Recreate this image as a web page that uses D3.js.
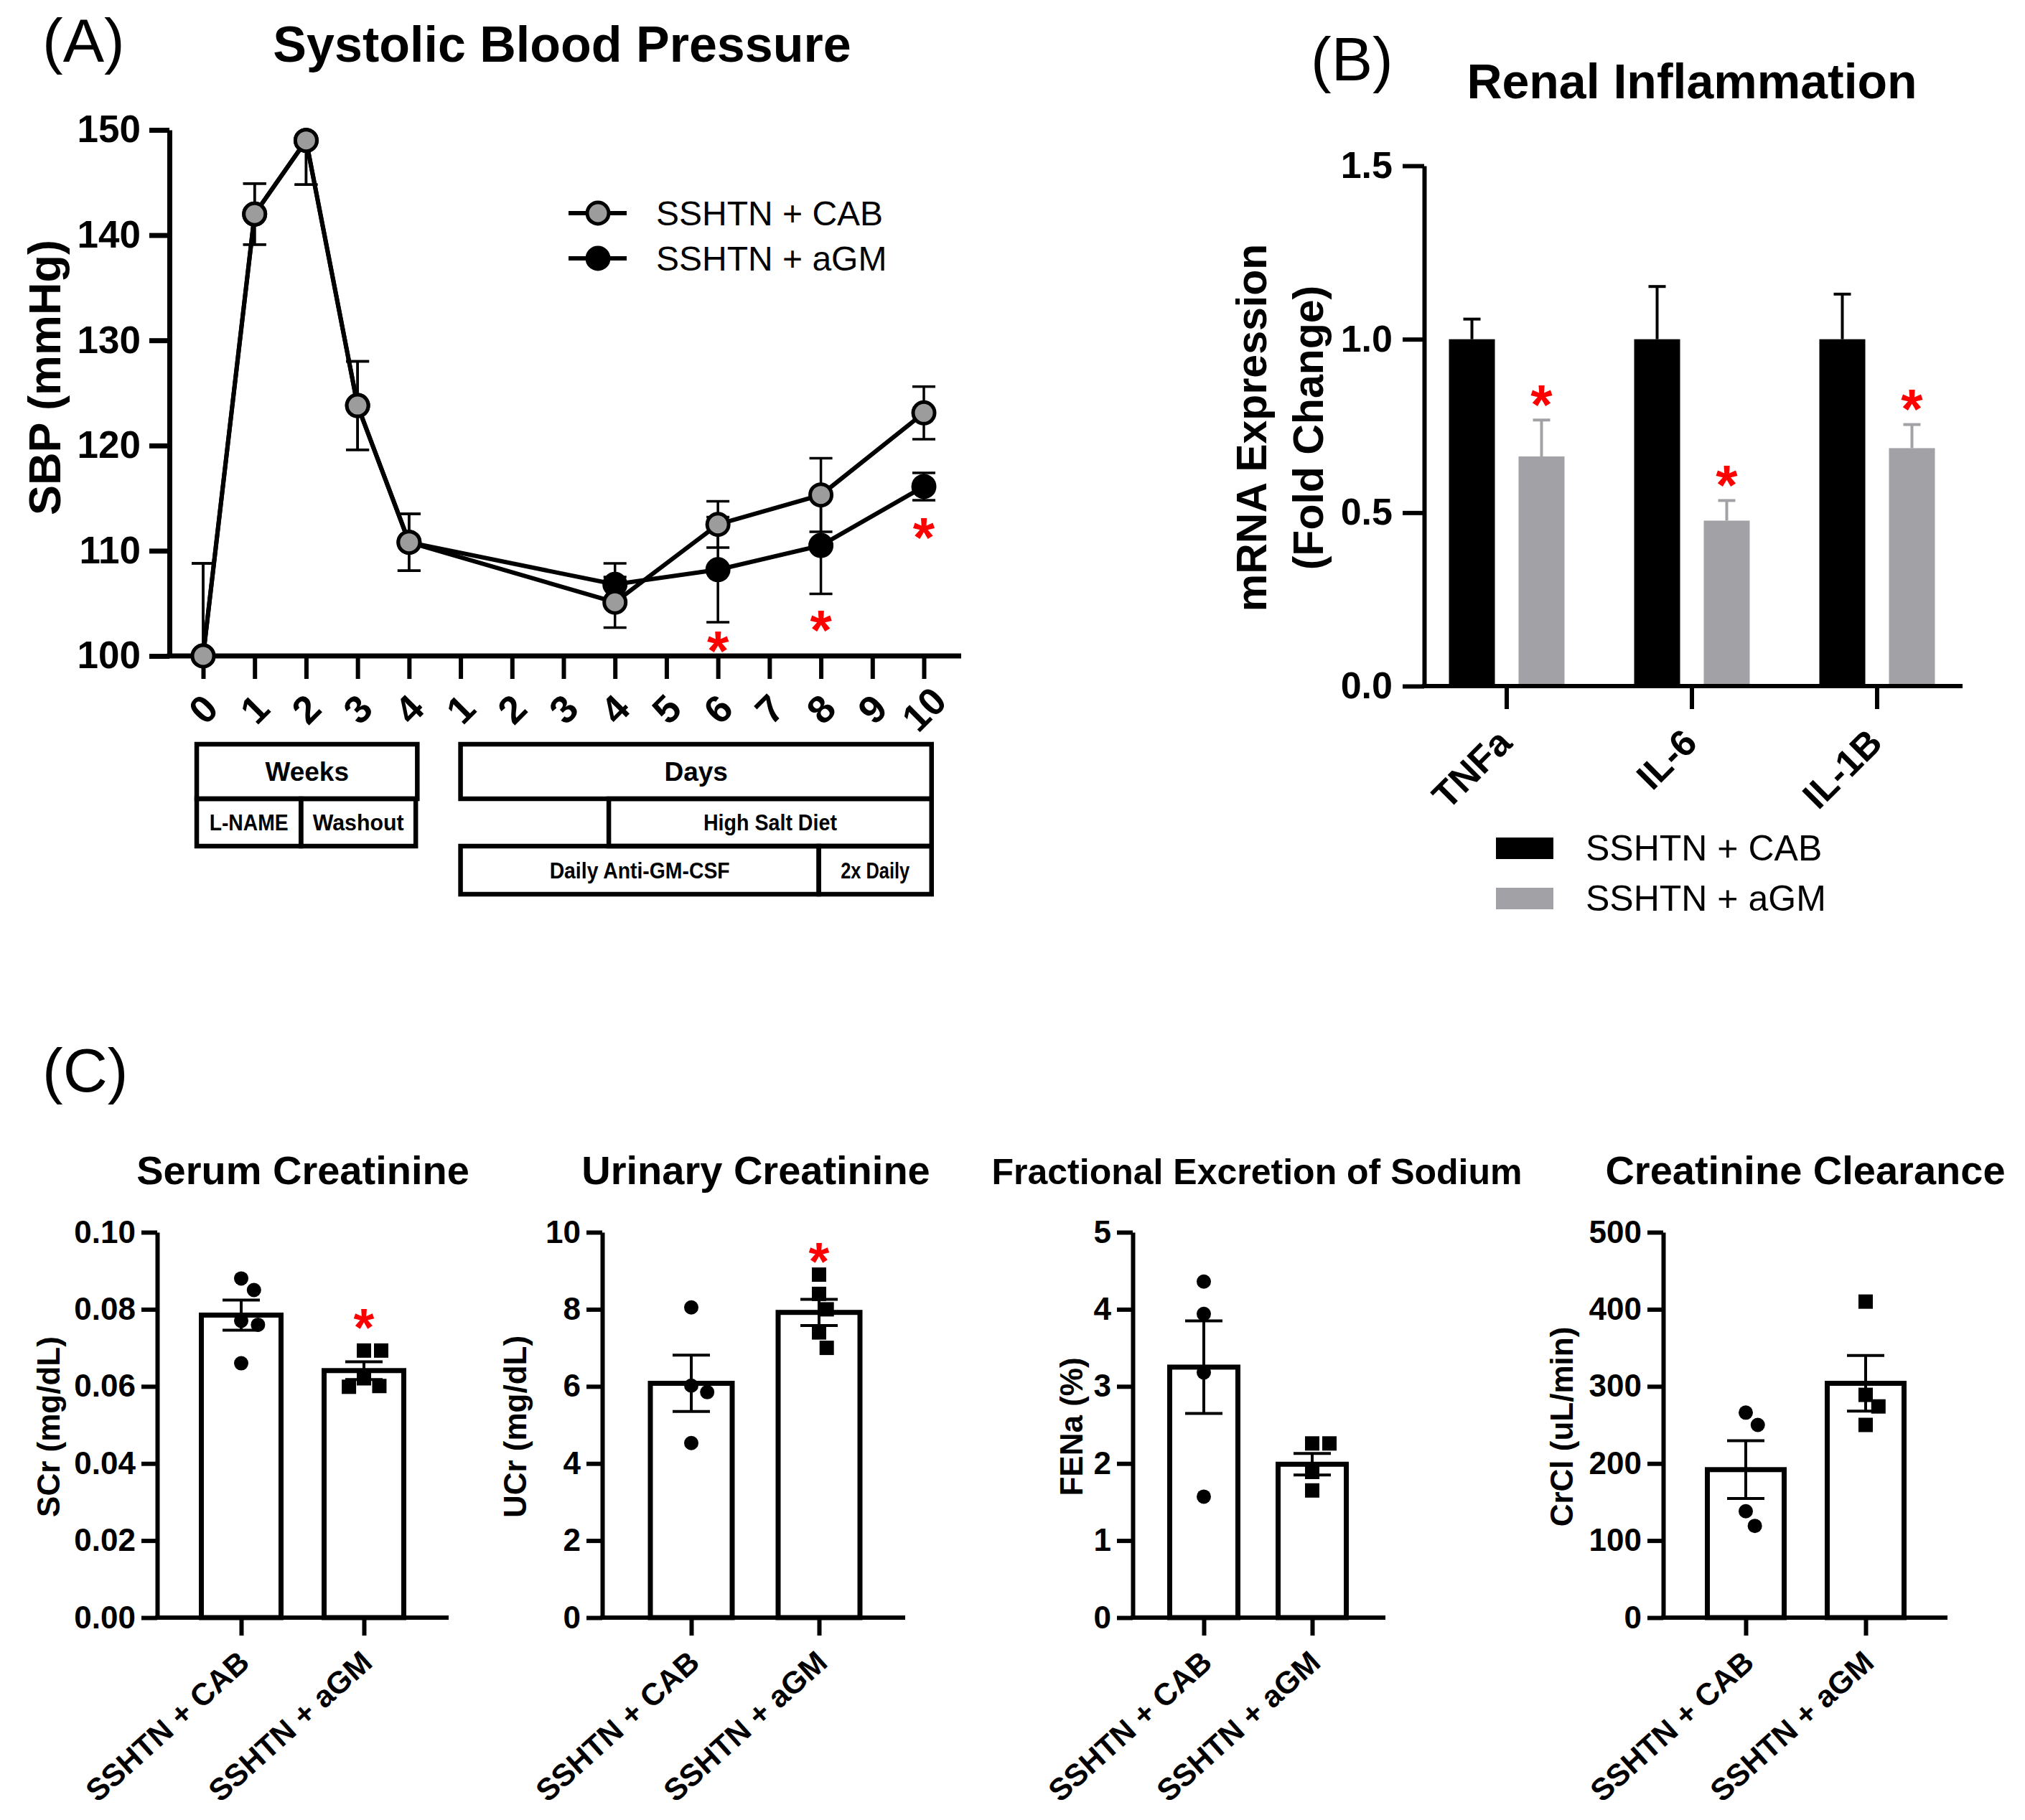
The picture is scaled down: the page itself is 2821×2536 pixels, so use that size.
<!DOCTYPE html>
<html><head><meta charset="utf-8">
<script src="https://cdn.jsdelivr.net/npm/d3@7"></script>
<style>body{margin:0;background:#fff} text{font-family:"Liberation Sans",Arial,Helvetica,sans-serif}</style>
</head><body><script>
// ---------------- DATA ----------------
// Panel A: systolic blood pressure
const sbpTickLabels = ["0","1","2","3","4","1","2","3","4","5","6","7","8","9","10"];
const sbpYTicks = [100,110,120,130,140,150];
const sbpPos = [0,1,2,3,4,8,10,12,14];
const sbpCAB = [100,142,149,123.8,110.8,105.1,112.5,115.3,123.1];
const sbpCABErr = [8.8,2.9,4.2,4.2,2.7,2.4,2.2,3.5,2.5];
const sbpAGM = [100,142,149,123.8,110.8,106.8,108.2,110.5,116.1];
const sbpAGMErr = [8.8,2.9,4.2,4.2,2.7,2.0,5.0,4.6,1.3];
const sbpStarPos = [10,12,14];
const sbpStarVal = [101.6,103.6,112.4];
const seriesNames = ["SSHTN + CAB","SSHTN + aGM"];
const timelineLabels = ["Weeks","L-NAME","Washout","Days","High Salt Diet","Daily Anti-GM-CSF","2x Daily"];

// Panel B: renal inflammation
const inflCats = ["TNFa","IL-6","IL-1B"];
const inflYTicks = [0,0.5,1.0,1.5];
const inflCAB = [1.0,1.0,1.0];
const inflCABErr = [0.058,0.152,0.13];
const inflAGM = [0.662,0.477,0.686];
const inflAGMErr = [0.105,0.058,0.068];
const inflStar = [true,true,true];

// Panel C
const groups = ["SSHTN + CAB","SSHTN + aGM"];
const scrMean = [0.0785,0.0641], scrSem = [0.0039,0.0023];
const scrCAB = [0.088,0.085,0.077,0.076,0.066];
const scrAGM = [0.0693,0.0693,0.0621,0.0601,0.0599];
const scrTicks = [0,0.02,0.04,0.06,0.08,0.10];
const ucrMean = [6.08,7.92], ucrSem = [0.73,0.34];
const ucrCAB = [8.05,6.02,5.85,4.53];
const ucrAGM = [8.9,8.4,8.0,7.4,7.0];
const ucrTicks = [0,2,4,6,8,10];
const fenaMean = [3.25,1.99], fenaSem = [0.6,0.14];
const fenaCAB = [4.36,3.94,3.18,1.57];
const fenaAGM = [2.26,2.26,1.89,1.65];
const fenaTicks = [0,1,2,3,4,5];
const crclMean = [192,304], crclSem = [37.5,36];
const crclCAB = [266,250,138,119];
const crclAGM = [410,289,274,250];
const crclTicks = [0,100,200,300,400,500];

// ---------------- DRAW ----------------
const W=2821,H=2536;
const RED="#ff0000", GRAY="#a2a2a6", MGRAY="#9c9c9c";
const svg=d3.select("body").append("svg").attr("width",W).attr("height",H);
svg.append("rect").attr("width",W).attr("height",H).attr("fill","#fff");

function txt(g,x,y,s,o={}){
  const t=g.append("text").attr("x",x).attr("y",y).text(s)
    .attr("font-size",o.size||40).attr("font-weight",o.weight||"normal")
    .attr("text-anchor",o.anchor||"start").attr("fill",o.fill||"#000");
  if(o.rotate!=null) t.attr("transform",`rotate(${o.rotate},${x},${y})`);
  if(o.db) t.attr("dominant-baseline",o.db);
  if(o.family) t.style("font-family",o.family);
  if(o.len) t.attr("textLength",o.len).attr("lengthAdjust","spacingAndGlyphs");
  return t;
}
function star(g,x,cy,fs){ return txt(g,x,cy+0.56*fs,"*",{size:fs,weight:"bold",anchor:"middle",fill:RED}); }
function styleAxis(sel,sw,fs){
  sel.selectAll("path.domain").attr("stroke","#000").attr("stroke-width",sw);
  sel.selectAll(".tick line").attr("stroke","#000").attr("stroke-width",sw);
  sel.selectAll(".tick text").attr("font-size",fs).attr("font-weight","bold").attr("fill","#000")
    .style("font-family",'"Liberation Sans",Arial,sans-serif');
}

// ---------- Panel A ----------
const gA=svg.append("g");
const xA=d3.scaleLinear().domain([0,14]).range([283,1287]);
const yA=d3.scaleLinear().domain([100,150]).range([914,181]);
const axA=236;
txt(gA,59,86,"(A)",{size:86});
txt(gA,783,86,"Systolic Blood Pressure",{size:70,weight:"bold",anchor:"middle"});
const ayA=gA.append("g").attr("transform",`translate(${axA},0)`)
  .call(d3.axisLeft(yA).tickValues(sbpYTicks).tickSize(28).tickSizeOuter(0).tickPadding(12));
styleAxis(ayA,7,53);
gA.append("line").attr("x1",axA-3.5).attr("x2",1339).attr("y1",yA(100)).attr("y2",yA(100)).attr("stroke","#000").attr("stroke-width",7);
const axXA=gA.append("g").attr("transform",`translate(0,${yA(100)})`)
  .call(d3.axisBottom(xA).tickValues(d3.range(15)).tickSize(32).tickFormat(""));
axXA.select("path.domain").remove();
styleAxis(axXA,6,40);
gA.selectAll("text.xlab").data(sbpTickLabels).join("text").attr("class","xlab")
  .attr("x",(d,i)=>xA(i)).attr("y",988).text(d=>d)
  .attr("text-anchor","middle").attr("dominant-baseline","central")
  .attr("font-size",54).attr("font-weight","bold")
  .attr("transform",(d,i)=>`rotate(-45,${xA(i)},988)`);
txt(gA,62,526,"SBP (mmHg)",{size:63,weight:"bold",anchor:"middle",rotate:-90,db:"central"});

svg.append("clipPath").attr("id","clipA").append("rect").attr("x",0).attr("y",yA(150)-3).attr("width",W).attr("height",yA(100)-yA(150)+3);
const lineA=d3.line().x(d=>xA(d.p)).y(d=>yA(d.v));
function drawSeries(vals,errs,fill){
  const data=vals.map((v,i)=>({p:sbpPos[i],v,e:errs[i]}));
  const eg=gA.append("g").attr("clip-path","url(#clipA)");
  data.forEach(d=>{
    const x=xA(d.p);
    eg.append("line").attr("x1",x).attr("x2",x).attr("y1",yA(d.v-d.e)).attr("y2",yA(d.v+d.e)).attr("stroke","#000").attr("stroke-width",3.5);
    [d.v-d.e,d.v+d.e].forEach(v=>eg.append("line").attr("x1",x-16).attr("x2",x+16).attr("y1",yA(v)).attr("y2",yA(v)).attr("stroke","#000").attr("stroke-width",3.5));
  });
  gA.append("path").datum(data).attr("d",lineA).attr("fill","none").attr("stroke","#000").attr("stroke-width",6);
  gA.selectAll(null).data(data).join("circle").attr("cx",d=>xA(d.p)).attr("cy",d=>yA(d.v)).attr("r",15)
    .attr("fill",fill).attr("stroke","#000").attr("stroke-width",5);
}
drawSeries(sbpAGM,sbpAGMErr,"#000");
drawSeries(sbpCAB,sbpCABErr,MGRAY);
sbpStarPos.forEach((p,i)=>star(gA,xA(p),yA(sbpStarVal[i]),78));
// legend A
[[MGRAY,297],["#000",360]].forEach(([f,y],i)=>{
  gA.append("line").attr("x1",792).attr("x2",873).attr("y1",y).attr("y2",y).attr("stroke","#000").attr("stroke-width",6);
  gA.append("circle").attr("cx",833).attr("cy",y).attr("r",15).attr("fill",f).attr("stroke","#000").attr("stroke-width",5);
  txt(gA,914,y,seriesNames[i],{size:48,db:"central"});
});
// timeline boxes
const tl=[
  {l:0,a:-0.125,b:4.16,r:0,bold:true},
  {l:1,a:-0.125,b:1.9,r:1},
  {l:2,a:1.9,b:4.13,r:1},
  {l:3,a:5.0,b:14.15,r:0,bold:true},
  {l:4,a:7.88,b:14.15,r:1},
  {l:5,a:5.0,b:11.96,r:2},
  {l:6,a:11.96,b:14.15,r:2}
];
const rowY=[[1037,1113],[1113,1179],[1179,1246]];
const lens=[null,110,127,null,186,251,96];
tl.forEach(t=>{
  const x0=xA(t.a),x1=xA(t.b),[y0,y1]=rowY[t.r];
  gA.append("rect").attr("x",x0).attr("y",y0).attr("width",x1-x0).attr("height",y1-y0)
    .attr("fill","none").attr("stroke","#000").attr("stroke-width",6.5);
  const cx=(x0+x1)/2, cy=(y0+y1)/2;
  if(t.bold) txt(gA,cx,cy+13,timelineLabels[t.l],{size:37,weight:"bold",anchor:"middle"});
  else txt(gA,cx,cy+11,timelineLabels[t.l],{size:31,weight:"bold",anchor:"middle",len:lens[t.l],family:'"Liberation Sans Narrow","Liberation Sans",Arial,sans-serif'});
});

// ---------- Panel B ----------
const gB=svg.append("g");
const yB=d3.scaleLinear().domain([0,1.5]).range([956,231]);
const xB=d3.scaleBand().domain(inflCats).range([1970,2744]);
const sB=d3.scaleBand().domain([0,1]).range([-80.5,80.5]).paddingInner(0.34);
const axB=1984;
txt(gB,1826,112,"(B)",{size:86});
txt(gB,2357,137,"Renal Inflammation",{size:68,weight:"bold",anchor:"middle"});
const ayB=gB.append("g").attr("transform",`translate(${axB},0)`)
  .call(d3.axisLeft(yB).tickValues(inflYTicks).tickFormat(d3.format(".1f")).tickSize(30).tickSizeOuter(0).tickPadding(14));
styleAxis(ayB,6,52);
gB.append("line").attr("x1",axB-3).attr("x2",2734).attr("y1",yB(0)).attr("y2",yB(0)).attr("stroke","#000").attr("stroke-width",6);
const axXB=gB.append("g").attr("transform",`translate(0,${yB(0)})`)
  .call(d3.axisBottom(xB).tickSize(32).tickFormat(""));
axXB.select("path.domain").remove();
styleAxis(axXB,6,40);
[[inflCAB,inflCABErr,"#000"],[inflAGM,inflAGMErr,GRAY]].forEach(([vals,errs,col],s)=>{
  inflCats.forEach((c,i)=>{
    const cx=xB(c)+xB.bandwidth()/2+sB(s)+sB.bandwidth()/2;
    const top=yB(vals[i]+errs[i]);
    gB.append("line").attr("x1",cx).attr("x2",cx).attr("y1",yB(vals[i])).attr("y2",top).attr("stroke",col).attr("stroke-width",4);
    gB.append("line").attr("x1",cx-12).attr("x2",cx+12).attr("y1",top).attr("y2",top).attr("stroke",col).attr("stroke-width",4);
    gB.append("rect").attr("x",cx-sB.bandwidth()/2).attr("y",yB(vals[i])).attr("width",sB.bandwidth())
      .attr("height",yB(0)-yB(vals[i])-3).attr("fill",col);
    if(s===1 && inflStar[i]) star(gB,cx,top-38,78);
  });
});
inflCats.forEach(c=>{
  const cx=xB(c)+xB.bandwidth()/2;
  txt(gB,cx+10,yB(0)+82,c,{size:52,weight:"bold",anchor:"end",rotate:-45});
});
txt(gB,1744,596,"mRNA Expression",{size:59,weight:"bold",anchor:"middle",rotate:-90,db:"central"});
txt(gB,1823,596,"(Fold Change)",{size:59,weight:"bold",anchor:"middle",rotate:-90,db:"central"});
[["#000",1182],[GRAY,1252]].forEach(([col,y],i)=>{
  gB.append("rect").attr("x",2084).attr("y",y-15).attr("width",80).attr("height",30).attr("fill",col);
  txt(gB,2209,y,seriesNames[i],{size:50,db:"central"});
});

// ---------- Panel C ----------
const gC=svg.append("g");
txt(gC,59,1521,"(C)",{size:86});
const cTop=1717,cBot=2254;
const subs=[
  {title:"Serum Creatinine",tsize:56,tx:422,ylab:"SCr (mg/dL)",lx:67,ax:219,xe:625,c:[336,507],bw:111,
   ticks:scrTicks,fmt:".2f",mean:scrMean,sem:scrSem,pts:[scrCAB,scrAGM],star:0.0783},
  {title:"Urinary Creatinine",tsize:56,tx:1053,ylab:"UCr (mg/dL)",lx:717,ax:839,xe:1261,c:[963,1141],bw:114,
   ticks:ucrTicks,fmt:"d",mean:ucrMean,sem:ucrSem,pts:[ucrCAB,ucrAGM],star:9.55},
  {title:"Fractional  Excretion of Sodium",tsize:50,tx:1751,ylab:"FENa (%)",lx:1492,ax:1578,xe:1930,c:[1677,1828],bw:95,
   ticks:fenaTicks,fmt:"d",mean:fenaMean,sem:fenaSem,pts:[fenaCAB,fenaAGM],star:null},
  {title:"Creatinine Clearance",tsize:56,tx:2515,ylab:"CrCl (uL/min)",lx:2175,ax:2317,xe:2713,c:[2432,2599],bw:107,
   ticks:crclTicks,fmt:"d",mean:crclMean,sem:crclSem,pts:[crclCAB,crclAGM],star:null}
];
function swarm(vals,y,r){
  const placed=[];
  return vals.map(v=>{
    const py=y(v); const cands=[0];
    placed.forEach(p=>{const dy=py-p.y; if(Math.abs(dy)<2*r){const dx=Math.sqrt(4*r*r-dy*dy); cands.push(p.x+dx,p.x-dx);}});
    cands.sort((a,b)=>Math.abs(a)-Math.abs(b));
    const x=cands.find(c=>placed.every(p=>(p.x-c)**2+(p.y-py)**2>=4*r*r-0.5));
    placed.push({x,y:py}); return x;
  });
}
subs.forEach(sp=>{
  const g=gC.append("g");
  const y=d3.scaleLinear().domain([sp.ticks[0],sp.ticks[sp.ticks.length-1]]).range([cBot,cTop]);
  const x=d3.scalePoint().domain(groups).range(sp.c);
  txt(g,sp.tx,1650,sp.title,{size:sp.tsize,weight:"bold",anchor:"middle"});
  txt(g,sp.lx,1988,sp.ylab,{size:44,weight:"bold",anchor:"middle",rotate:-90,db:"central"});
  const ay=g.append("g").attr("transform",`translate(${sp.ax},0)`)
    .call(d3.axisLeft(y).tickValues(sp.ticks).tickFormat(d3.format(sp.fmt)).tickSize(22).tickSizeOuter(0).tickPadding(8));
  styleAxis(ay,6,44);
  g.append("line").attr("x1",sp.ax-3).attr("x2",sp.xe).attr("y1",cBot).attr("y2",cBot).attr("stroke","#000").attr("stroke-width",6);
  const axx=g.append("g").attr("transform",`translate(0,${cBot})`).call(d3.axisBottom(x).tickSize(25).tickFormat(""));
  axx.select("path.domain").remove();
  styleAxis(axx,6,40);
  groups.forEach((grp,i)=>{
    const cx=x(grp);
    g.append("rect").attr("x",cx-sp.bw/2).attr("y",y(sp.mean[i])).attr("width",sp.bw).attr("height",cBot-y(sp.mean[i]))
      .attr("fill","#fff").attr("stroke","#000").attr("stroke-width",7);
    const lo=y(sp.mean[i]-sp.sem[i]), hi=y(sp.mean[i]+sp.sem[i]);
    g.append("line").attr("x1",cx).attr("x2",cx).attr("y1",lo).attr("y2",hi).attr("stroke","#000").attr("stroke-width",4);
    [lo,hi].forEach(yy=>g.append("line").attr("x1",cx-26).attr("x2",cx+26).attr("y1",yy).attr("y2",yy).attr("stroke","#000").attr("stroke-width",4));
    const offs=swarm(sp.pts[i],y,12);
    sp.pts[i].forEach((v,k)=>{
      if(i===0) g.append("circle").attr("cx",cx+offs[k]).attr("cy",y(v)).attr("r",10).attr("fill","#000");
      else g.append("path").attr("d",d3.symbol(d3.symbolSquare,400)()).attr("transform",`translate(${cx+offs[k]},${y(v)})`).attr("fill","#000");
    });
    txt(g,cx+14,cBot+66,grp,{size:43,weight:"bold",anchor:"end",rotate:-42});
  });
  if(sp.star!=null) star(g,x(groups[1]),y(sp.star),74);
});
</script></body></html>
